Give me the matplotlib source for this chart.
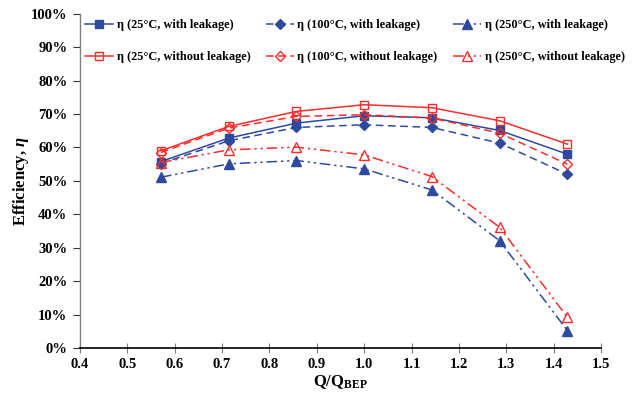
import matplotlib
matplotlib.use("Agg")
import matplotlib.pyplot as plt
from matplotlib.ticker import PercentFormatter, MultipleLocator, FormatStrFormatter

plt.rcParams['font.family'] = ['Liberation Serif', 'DejaVu Serif']
plt.rcParams['font.weight'] = 'bold'
plt.rcParams['mathtext.fontset'] = 'custom'
plt.rcParams['mathtext.rm'] = 'Liberation Serif:bold'
plt.rcParams['mathtext.bf'] = 'Liberation Serif:bold'
plt.rcParams['mathtext.it'] = 'Liberation Serif:italic:bold'

# Flow ratio Q/Q_BEP
q_ratio = [0.571, 0.714, 0.857, 1.0, 1.143, 1.286, 1.429]

# Efficiency (%) with leakage
eta_25_leak = [55.8, 62.8, 67.3, 69.5, 68.9, 65.1, 58.0]
eta_100_leak = [55.2, 62.0, 66.0, 66.8, 66.0, 61.3, 52.0]
eta_250_leak = [51.1, 55.1, 56.1, 53.6, 47.3, 32.1, 5.2]

# Efficiency (%) without leakage
eta_25_noleak = [59.0, 66.3, 70.8, 72.8, 71.9, 68.0, 61.0]
eta_100_noleak = [58.5, 65.8, 69.3, 69.8, 68.8, 64.3, 55.0]
eta_250_noleak = [55.5, 59.3, 60.1, 57.8, 51.3, 36.1, 9.2]

labels = [
    "η (25°C, with leakage)", "η (100°C, with leakage)", "η (250°C, with leakage)",
    "η (25°C, without leakage)", "η (100°C, without leakage)", "η (250°C, without leakage)",
]

blue = '#2D4A9E'
red = '#FF2B2B'
dashdotdot = (0, (7, 2.5, 1.5, 2.5, 1.5, 2.5))

fig = plt.figure(figsize=(6.34, 3.95), dpi=100)
ax = fig.add_axes([0.126, 0.119, 0.822, 0.846])

series = [
    (eta_25_leak, blue, '-', 's', blue, 6.2),
    (eta_100_leak, blue, (0, (5, 3)), 'D', blue, 5.0),
    (eta_250_leak, blue, dashdotdot, '^', blue, 6.8),
    (eta_25_noleak, red, '-', 's', 'none', 6.2),
    (eta_100_noleak, red, (0, (5, 3)), 'D', 'none', 5.0),
    (eta_250_noleak, red, dashdotdot, '^', 'none', 6.8),
]

handles = []
for (vals, col, ls, mk, fc, ms), lab in zip(series, labels):
    h, = ax.plot(q_ratio, vals, color=col, linestyle=ls, linewidth=1.1,
                 marker=mk, markersize=ms, markerfacecolor=fc,
                 markeredgecolor=col, markeredgewidth=1.0, label=lab)
    handles.append(h)

ax.set_xlim(0.4, 1.5)
ax.set_ylim(0, 100)
ax.xaxis.set_major_locator(MultipleLocator(0.1))
ax.xaxis.set_major_formatter(FormatStrFormatter('%.1f'))
ax.yaxis.set_major_locator(MultipleLocator(10))
ax.yaxis.set_major_formatter(PercentFormatter(decimals=0))

for s in ['top', 'right']:
    ax.spines[s].set_visible(False)
ax.spines['left'].set_color('#808080')
ax.spines['bottom'].set_color('black')
ax.spines['left'].set_linewidth(1.0)
ax.spines['bottom'].set_linewidth(1.2)

ax.tick_params(axis='y', direction='out', length=5, color='#333333', labelsize=10.5, pad=4)
ax.tick_params(axis='x', direction='inout', length=7, color='#808080', labelsize=10.5, pad=4)
for t in ax.get_xticklabels() + ax.get_yticklabels():
    t.set_fontweight('bold')

ax.set_xlabel(r'$\mathrm{Q/Q_{BEP}}$', fontsize=12, labelpad=1)
ax.set_ylabel(r'Efficiency, $\it{\eta}$', fontsize=12, fontweight='bold', labelpad=0)

# legend filled row by row: with-leakage on top, without-leakage below
order = [0, 3, 1, 4, 2, 5]
leg = fig.legend([handles[i] for i in order], [labels[i] for i in order],
                 ncol=3, loc='upper left', bbox_to_anchor=(0.128, 0.96),
                 frameon=False,
                 prop={'family': 'Liberation Serif', 'weight': 'bold', 'size': 8.8},
                 handlelength=2.3, handletextpad=0.3, columnspacing=1.25,
                 labelspacing=1.58, borderaxespad=0.0, borderpad=0.3)

fig.savefig('out.png', dpi=100)
